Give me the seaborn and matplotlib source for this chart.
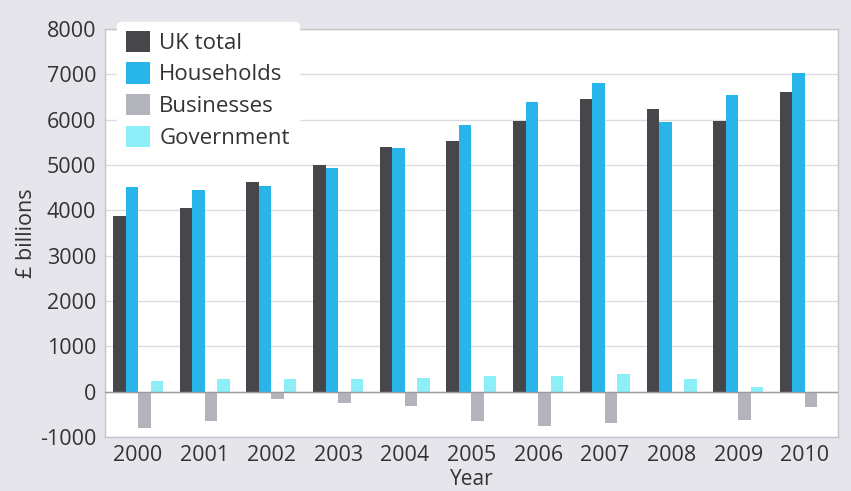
import pandas as pd
import numpy as np
import matplotlib
matplotlib.use('Agg')
import matplotlib.pyplot as plt
import seaborn as sns

# Values (£ billions)
years = ['2000', '2001', '2002', '2003', '2004', '2005', '2006', '2007', '2008', '2009', '2010']
uk_total = [3880, 4040, 4620, 4990, 5390, 5530, 5970, 6460, 6230, 5970, 6600]
households = [4510, 4450, 4540, 4940, 5380, 5880, 6380, 6810, 5950, 6550, 7020]
businesses = [-800, -640, -170, -240, -320, -640, -760, -690, -20, -630, -330]
government = [240, 270, 290, 280, 310, 350, 350, 390, 280, 110, -40]

series = ['UK total', 'Households', 'Businesses', 'Government']
colors = ['#46464b', '#27b5ea', '#b3b3bb', '#8ceef6']

data = pd.DataFrame({
    'Year': years * 4,
    'Sector': [s for s in series for _ in years],
    'Value': uk_total + households + businesses + government,
})

sns.set_theme(style='white')
plt.rcParams['font.family'] = ['Open Sans', 'DejaVu Sans']
plt.rcParams['axes.unicode_minus'] = False

fig = plt.figure(figsize=(8.51, 4.91), dpi=100, facecolor='#e5e5eb')
ax = fig.add_axes([0.123, 0.110, 0.862, 0.831])
ax.set_facecolor('white')

sns.barplot(data=data, x='Year', y='Value', hue='Sector', hue_order=series,
            palette=colors, width=0.75, gap=0, saturation=1, errorbar=None,
            linewidth=0, ax=ax, zorder=3)

ax.set_ylim(-1000, 8000)
ax.set_xlim(-0.5, 10.5)
ax.set_yticks(range(-1000, 8001, 1000))
ax.yaxis.grid(True, color='#dcdce0', linewidth=1, zorder=0)
ax.axhline(0, color='#9a9aa0', linewidth=1, zorder=4)

for side in ['top', 'right', 'left', 'bottom']:
    ax.spines[side].set_color('#c4c4c8')
    ax.spines[side].set_linewidth(1)

ax.tick_params(axis='both', labelsize=15.5, labelcolor='#333333', length=0, pad=6)
ax.set_xticks(np.arange(-0.5, 10.6, 1), minor=True)
ax.tick_params(axis='x', which='minor', length=60, color='#f3f3f6', width=1)

ax.set_xlabel('Year', fontsize=15, color='#333333')
ax.xaxis.set_label_coords(0.5, -0.078)
ax.set_ylabel('£ billions', fontsize=15.5, color='#333333', labelpad=2)

leg = ax.legend(loc='upper left', bbox_to_anchor=(0.017, 1.018), fontsize=16,
                frameon=True, facecolor='white', edgecolor='white', framealpha=1,
                handlelength=1.1, handleheight=1.1, handletextpad=0.4,
                labelspacing=0.38, borderpad=0.4, borderaxespad=0)
for t in leg.get_texts():
    t.set_color('#333333')
leg.set_zorder(5)

fig.savefig('out.png', dpi=100, facecolor=fig.get_facecolor())
